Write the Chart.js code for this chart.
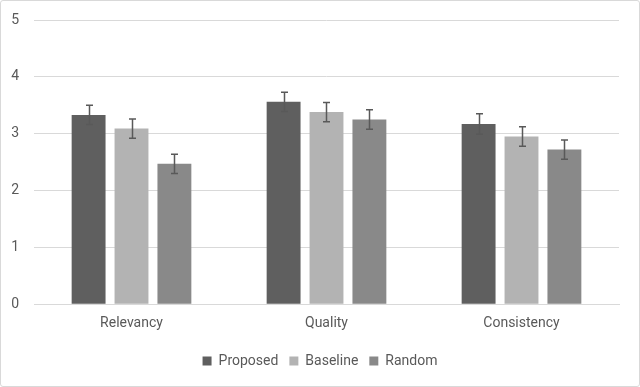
<!DOCTYPE html>
<html>
<head>
<meta charset="utf-8">
<script src="https://cdn.jsdelivr.net/npm/chart.js@4"></script>
<style>
  html, body { margin: 0; padding: 0; background: #fff; }
  #wrap {
    position: relative; width: 640px; height: 387px;
    box-sizing: border-box; border: 1px solid #d9d9d9; border-radius: 3px;
  }
  #chart { display: block; }
</style>
</head>
<body>
<div id="wrap"><canvas id="chart" width="638" height="385"></canvas></div>
<script>
// ---- data ----
const categories = ["Relevancy", "Quality", "Consistency"];
const seriesNames = ["Proposed", "Baseline", "Random"];
const proposed = [3.33, 3.56, 3.17];
const baseline = [3.09, 3.38, 2.95];
const random   = [2.47, 3.25, 2.72];
const proposedErr = [0.17, 0.17, 0.18];
const baselineErr = [0.17, 0.17, 0.17];
const randomErr   = [0.17, 0.17, 0.17];
const yTicks = [0, 1, 2, 3, 4, 5];

const colors = ["#5f5f5f", "#b3b3b3", "#898989"];
const values = [proposed, baseline, random];
const errs = [proposedErr, baselineErr, randomErr];

/* ---------- error bars plugin ---------- */
const errorBars = {
  id: "errorBars",
  afterDatasetsDraw(chart) {
    const ctx = chart.ctx;
    const y = chart.scales.y;
    ctx.save();
    ctx.strokeStyle = "#595959";
    ctx.lineWidth = 1.5;
    chart.data.datasets.forEach((ds, di) => {
      const meta = chart.getDatasetMeta(di);
      meta.data.forEach((bar, i) => {
        const e = ds.errors[i];
        const v = ds.data[i];
        const top = y.getPixelForValue(v + e);
        const bot = y.getPixelForValue(v - e);
        const x = Math.round(bar.x) + 0.5;
        ctx.beginPath();
        ctx.moveTo(x, top); ctx.lineTo(x, bot);
        ctx.moveTo(x - 3.5, top); ctx.lineTo(x + 3.5, top);
        ctx.moveTo(x - 3.5, bot); ctx.lineTo(x + 3.5, bot);
        ctx.stroke();
      });
    });
    ctx.restore();
  },
};

const FONT = "Roboto, 'Liberation Sans', sans-serif";

new Chart(document.getElementById("chart").getContext("2d"), {
  type: "bar",
  data: {
    labels: categories,
    datasets: seriesNames.map((name, i) => ({
      label: name,
      data: values[i],
      errors: errs[i],
      backgroundColor: colors[i],
      borderWidth: 0,
      barPercentage: 0.79,
      categoryPercentage: 0.66,
    })),
  },
  options: {
    responsive: false,
    animation: false,
    layout: { padding: { left: 0, right: 0, top: 19, bottom: 8 } },
    plugins: {
      tooltip: { enabled: false },
      legend: {
        position: "bottom",
        labels: {
          boxWidth: 9, boxHeight: 9, padding: 11,
          color: "#595959", font: { family: FONT, size: 14 },
        },
      },
    },
    scales: {
      x: {
        grid: { display: false, drawTicks: false },
        border: { display: true, color: "#d9d9d9" },
        ticks: { color: "#595959", font: { family: FONT, size: 14 }, padding: 11 },
      },
      y: {
        min: 0, max: 5,
        afterBuildTicks: (axis) => { axis.ticks = yTicks.map((v) => ({ value: v })); },
        afterFit: (axis) => { axis.width = 33; axis.paddingTop = 0; axis.paddingBottom = 0; },
        grid: { color: "#d9d9d9", drawTicks: false },
        border: { display: false },
        ticks: { color: "#595959", font: { family: FONT, size: 14 }, padding: 15 },
      },
      // empty right-hand spacer so the legend stays centred on the canvas
      spacer: {
        position: "right",
        min: 0, max: 5,
        afterFit: (axis) => { axis.width = 20; axis.paddingTop = 0; axis.paddingBottom = 0; },
        grid: { display: false, drawTicks: false },
        border: { display: false },
        ticks: { display: false },
      },
    },
  },
  plugins: [errorBars],
});
</script>
</body>
</html>
